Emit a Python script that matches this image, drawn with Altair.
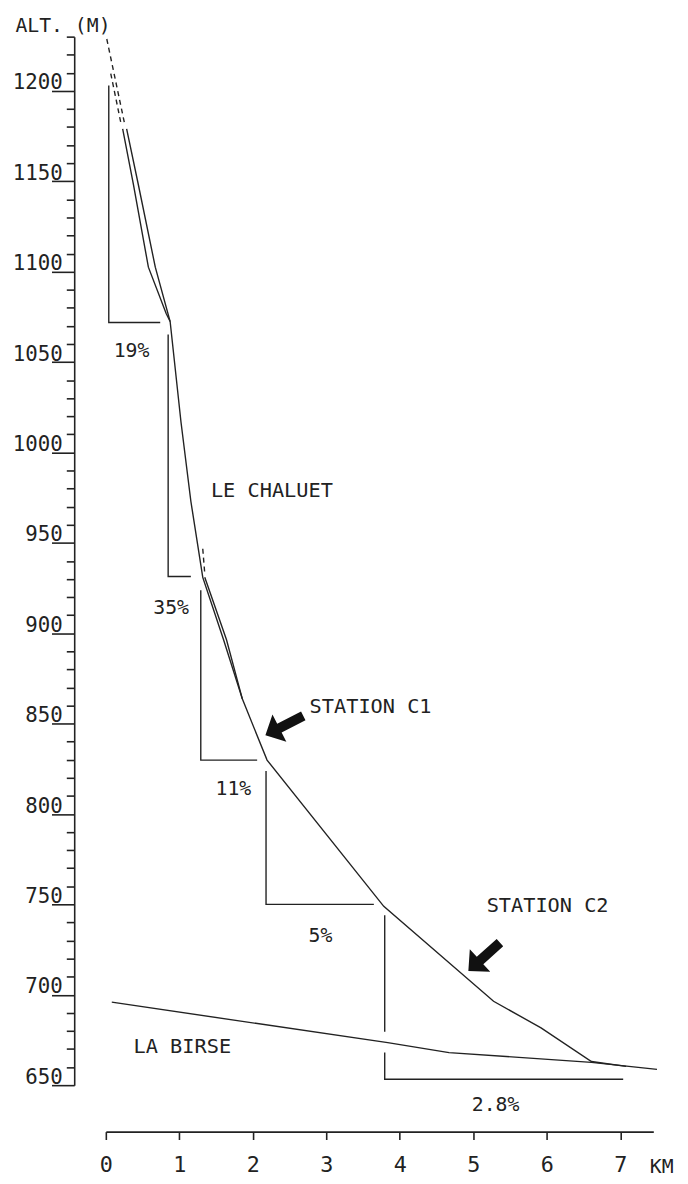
import altair as alt
import pandas as pd

# ---------------- data (km, m) ----------------
# Le Chaluet profile, main (outer) trace
prof_km = [0.283, 0.444, 0.673, 0.875, 1.023, 1.157, 1.319, 1.602, 1.857, 2.194, 3.782, 5.276, 5.922, 6.608, 7.080]
prof_m = [1179.0, 1147.8, 1102.5, 1072.4, 1016.7, 973.0, 930.9, 896.4, 863.7, 829.8, 748.9, 696.4, 681.7, 663.1, 660.4]

# second (parallel) trace where the profile is doubled
inner1_km = [0.229, 0.377, 0.579, 0.821, 0.875]
inner1_m = [1179.0, 1147.8, 1102.5, 1076.8, 1072.4]
inner2_km = [1.346, 1.642, 1.857]
inner2_m = [930.9, 896.4, 863.7]

# dashed continuations
dashA_km = [0.013, 0.256]
dashA_m = [1228.7, 1181.7]
dashB_km = [0.067, 0.202]
dashB_m = [1209.6, 1182.8]
dashC_km = [1.319, 1.346]
dashC_m = [946.7, 933.1]

# La Birse
birse_km = [0.081, 3.836, 4.670, 6.608, 7.50]
birse_m = [695.9, 673.5, 668.0, 662.6, 658.7]

# slope triangles
slope_labels = ["19%", "35%", "11%", "5%", "2.8%"]
slope_leg_km = [0.040, 0.848, 1.292, 2.180, 3.795]
slope_top_m = [1203.0, 1065.3, 923.8, 823.8, 744.0]
slope_base_m = [1071.9, 931.4, 829.8, 750.0, 653.3]
slope_end_km = [0.740, 1.157, 2.059, 3.647, 7.040]
gap_m = [679.5, 668.0]  # break in the 2.8% leg where La Birse crosses
slope_lab_km = [0.350, 0.888, 1.736, 2.921, 5.303]
slope_lab_m = [1056.0, 913.9, 813.9, 732.5, 639.1]

# place names
name_labels = ["LE CHALUET", "STATION C1", "STATION C2", "LA BIRSE"]
name_km = [1.430, 2.773, 5.182, 0.377]
name_m = [978.4, 859.3, 748.9, 671.3]

# arrows (centre of arrow)
arrow_km = [2.429, 5.148]
arrow_m = [848.9, 721.0]
arrow_angle = [243, 228]

y_ticks = list(range(650, 1231, 10))
x_ticks = list(range(0, 8))

# ---------------- styling ----------------
FONT = "DejaVu Sans Mono"
INK = "#222222"
LW = 1.4
ARROW = "M0,-1 L0.72,-0.26 L0.23,-0.26 L0.23,1 L-0.23,1 L-0.23,-0.26 L-0.72,-0.26 Z"

xs = alt.Scale(domain=[0, 7.45], nice=False, zero=False)
ys = alt.Scale(domain=[650, 1230], nice=False, zero=False)

x_axis = alt.Axis(
    values=x_ticks, format="d", grid=False, tickSize=8, offset=47,
    labelFont=FONT, labelFontSize=22, labelColor=INK, labelPadding=15, labelFlush=False,
    domainColor=INK, tickColor=INK, domainWidth=1.6, tickWidth=1.6,
    title="KM", titleFont=FONT, titleFontSize=20, titleFontWeight="normal", titleColor=INK,
    titleAlign="left", titleBaseline="alphabetic", titleAnchor="start", titleX=550, titleY=41,
)
y_axis = alt.Axis(
    values=y_ticks, format="d", grid=False, offset=32,
    labelExpr="datum.value % 50 === 0 ? datum.label : ''",
    tickSize={"condition": {"test": "datum.value % 50 === 0", "value": 23}, "value": 8},
    labelPadding=-11, labelAlign="right", labelBaseline="alphabetic", labelOffset=-2,
    labelOverlap=False, labelFont=FONT, labelFontSize=21, labelColor=INK,
    domainColor=INK, tickColor=INK, domainWidth=1.6, tickWidth=1.6,
    title="ALT. (M)", titleFont=FONT, titleFontSize=20, titleFontWeight="normal", titleColor=INK,
    titleAngle=0, titleAlign="left", titleBaseline="alphabetic", titleX=-60, titleY=-5,
)


def X():
    return alt.X("x:Q", scale=xs, axis=x_axis)


def Y():
    return alt.Y("y:Q", scale=ys, axis=y_axis)


def rows(series, kms, ms):
    return [{"x": k, "y": m, "s": series, "o": i} for i, (k, m) in enumerate(zip(kms, ms))]


solid = (rows("outer", prof_km, prof_m) + rows("inner1", inner1_km, inner1_m)
         + rows("inner2", inner2_km, inner2_m) + rows("birse", birse_km, birse_m))
for i in range(len(slope_labels)):
    top = slope_top_m[i]
    if i == len(slope_labels) - 1:
        solid += rows("s%da" % i, [slope_leg_km[i]] * 2, [top, gap_m[0]])
        top = gap_m[1]
    solid += rows("s%d" % i, [slope_leg_km[i], slope_leg_km[i], slope_end_km[i]],
                  [top, slope_base_m[i], slope_base_m[i]])
solid_df = pd.DataFrame(solid)

dash_df = pd.DataFrame(rows("dA", dashA_km, dashA_m) + rows("dB", dashB_km, dashB_m)
                       + rows("dC", dashC_km, dashC_m))

pct_df = pd.DataFrame({"x": slope_lab_km, "y": slope_lab_m, "t": slope_labels})
name_df = pd.DataFrame({"x": name_km, "y": name_m, "t": name_labels})
arrow_df = pd.DataFrame({"x": arrow_km, "y": arrow_m, "a": arrow_angle})

lines = alt.Chart(solid_df).mark_line(color=INK, strokeWidth=LW).encode(
    x=X(), y=Y(), detail="s:N", order="o:Q")

dashes = alt.Chart(dash_df).mark_line(color=INK, strokeWidth=LW, strokeDash=[5, 4]).encode(
    x=X(), y=Y(), detail="s:N", order="o:Q")

pct = alt.Chart(pct_df).mark_text(font=FONT, fontSize=20, color=INK, align="center",
                                  baseline="middle").encode(x=X(), y=Y(), text="t:N")

names = alt.Chart(name_df).mark_text(font=FONT, fontSize=20.5, color=INK, align="left",
                                     baseline="middle").encode(x=X(), y=Y(), text="t:N")

arrows = alt.Chart(arrow_df).mark_point(shape=ARROW, filled=True, size=1849, color="#111111",
                                        opacity=1, strokeWidth=0).encode(
    x=X(), y=Y(), angle=alt.Angle("a:Q", scale=None))

chart = alt.layer(lines, dashes, pct, names, arrows).properties(
    width=554, height=1061,
    autosize=alt.AutoSizeParams(type="none"),
    padding={"left": 99, "top": 22, "right": 27, "bottom": 90},
    background="white",
).configure_view(stroke=None)

chart.save("out.html", embed_options={"renderer": "svg", "actions": False})
